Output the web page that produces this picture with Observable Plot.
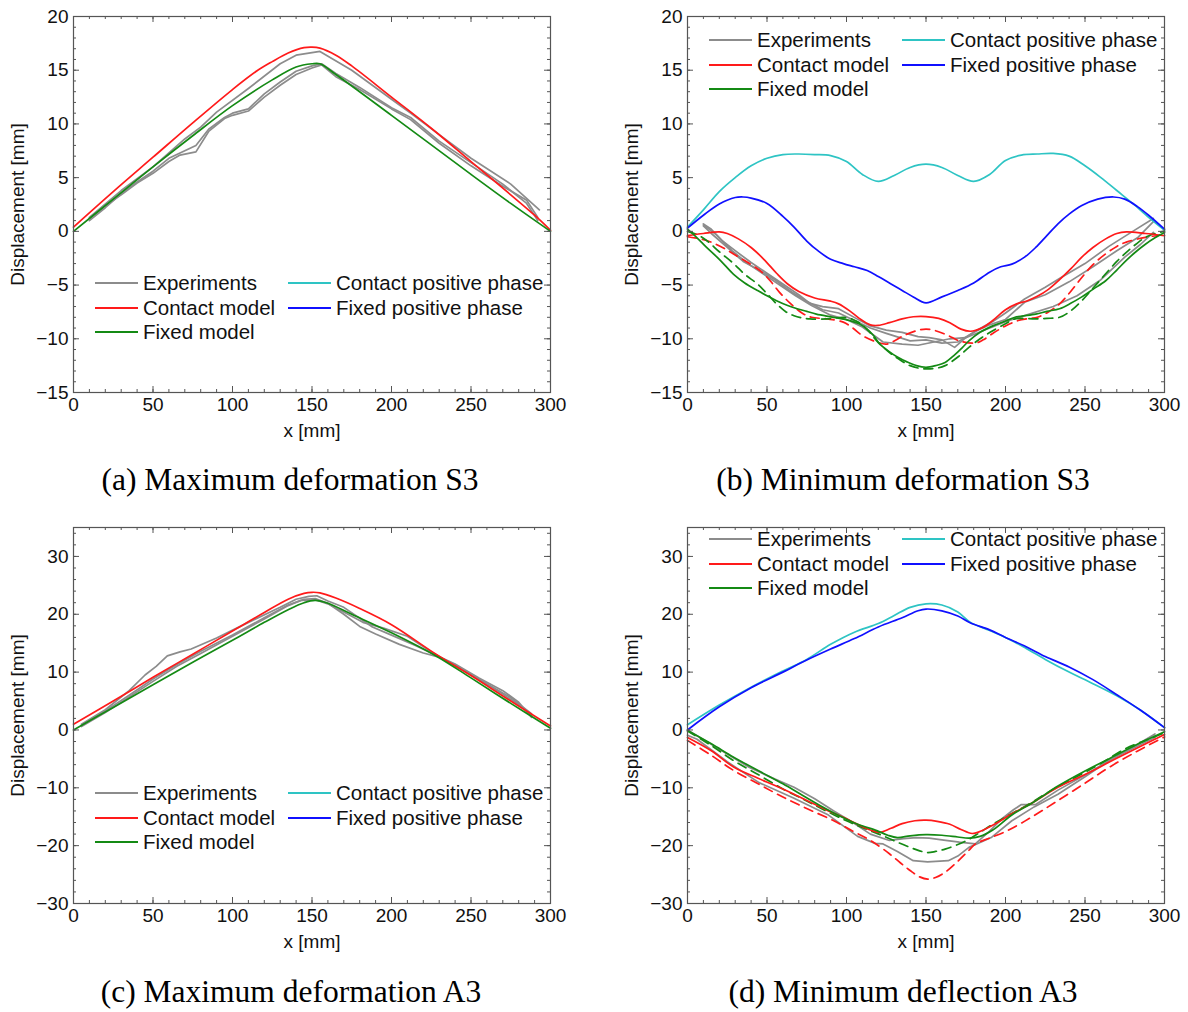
<!DOCTYPE html>
<html><head><meta charset="utf-8">
<script src="https://cdn.jsdelivr.net/npm/d3@7"></script>
<script src="https://cdn.jsdelivr.net/npm/@observablehq/plot@0.6"></script>
<style>
body{margin:0;background:#fff;}
#root{position:relative;width:1188px;height:1012px;overflow:hidden;background:#fff;font-family:"Liberation Sans",Arial,sans-serif;}
.panel{position:absolute;}
.leg{position:absolute;font-size:20.5px;color:#111;white-space:nowrap;line-height:20px;display:flex;align-items:center;}
.leg svg{margin-right:5px;}
.caption{position:absolute;font-family:"Liberation Serif","Times New Roman",serif;font-size:31.5px;line-height:32px;transform:translateX(-50%);white-space:nowrap;color:#000;}
</style>
</head><body><div id="root"></div>
<script>
// ---------------- data ----------------
const X_TICKS = [0, 50, 100, 150, 200, 250, 300];
const Y_TICKS_S3 = [-15, -10, -5, 0, 5, 10, 15, 20];
const Y_TICKS_A3 = [-30, -20, -10, 0, 10, 20, 30];
const LEGEND_NAMES = ["Experiments", "Contact model", "Fixed model", "Contact positive phase", "Fixed positive phase"];
const CAPTIONS = ["(a) Maximum deformation S3", "(b) Minimum deformation S3", "(c) Maximum deformation A3", "(d) Minimum deflection A3"];

// (a) Maximum deformation S3
const a_exp1 = [[10,1.3],[30,3.8],[50,6.0],[70,8.6],[80,9.7],[90,11.1],[110,13.3],[130,15.6],[140,16.4],[155,16.75],[175,15.0],[200,12.3],[212,11.0],[230,9.0],[250,6.8],[275,4.4],[293,2.0]];
const a_exp2 = [[10,1.2],[20,2.4],[30,3.4],[40,4.5],[50,5.4],[60,6.5],[67,7.1],[77,7.4],[85,9.3],[95,10.5],[100,10.8],[110,11.2],[120,12.5],[130,13.6],[140,14.6],[150,15.2],[156,15.5],[165,14.4],[180,13.2],[200,11.4],[212,10.4],[230,8.2],[250,6.1],[270,4.2],[285,2.9],[292,1.3]];
const a_exp3 = [[10,1.0],[20,2.2],[30,3.5],[40,4.6],[50,5.6],[60,6.8],[67,7.3],[77,8.0],[85,9.5],[95,10.6],[100,11.0],[110,11.4],[120,12.8],[130,13.9],[140,14.9],[150,15.4],[156,15.6],[165,14.7],[180,13.4],[200,11.5],[212,10.6],[230,8.4],[250,6.4],[270,4.4],[285,2.6],[292,1.0]];
const a_contact = [[0,0.4],[25,3.7],[50,6.9],[75,10.1],[100,13.2],[115,14.9],[125,15.8],[135,16.6],[145,17.1],[150,17.15],[155,17.05],[165,16.4],[175,15.4],[200,12.5],[225,9.6],[250,6.5],[275,3.4],[290,1.5],[300,0.1]];
const a_fixed = [[0,0],[25,3.0],[50,6.0],[75,8.9],[100,11.7],[125,14.1],[140,15.3],[150,15.6],[155,15.6],[165,14.6],[200,10.8],[250,5.3],[275,2.6],[300,0]];

// (b) Minimum deformation S3
const b_exp1 = [[10,0.7],[15,0.2],[22,-0.9],[30,-1.8],[40,-2.9],[50,-3.9],[60,-4.9],[70,-5.9],[77,-6.7],[85,-7.0],[95,-7.2],[106,-8.1],[115,-8.8],[125,-9.2],[135,-9.4],[145,-9.8],[152,-9.9],[160,-10.1],[168,-10.8],[175,-9.9],[182,-9.2],[192,-8.4],[200,-7.6],[212,-6.3],[225,-5.2],[235,-4.3],[250,-3.0],[265,-1.4],[280,0.0],[293,1.2]];
const b_exp2 = [[10,0.5],[15,-0.2],[25,-1.5],[35,-2.8],[45,-3.6],[55,-4.5],[65,-5.6],[75,-6.5],[85,-7.3],[95,-7.6],[105,-8.3],[115,-9.0],[125,-9.5],[140,-10.2],[150,-10.1],[160,-10.4],[170,-10.3],[180,-9.4],[190,-8.7],[200,-8.2],[212,-6.6],[225,-5.9],[240,-4.7],[255,-3.3],[270,-1.8],[283,-0.6],[293,0.9]];
const b_exp3 = [[10,0.6],[18,-0.3],[28,-1.8],[38,-3.0],[48,-4.0],[58,-5.0],[68,-6.0],[78,-6.9],[90,-7.8],[100,-8.2],[110,-8.9],[123,-10.3],[135,-10.5],[145,-10.6],[155,-10.3],[165,-10.0],[175,-9.9],[185,-9.3],[200,-8.4],[215,-7.7],[230,-7.0],[245,-6.0],[260,-4.5],[275,-2.4],[285,-1.2],[293,-0.1]];
const b_contact = [[0,-0.4],[10,-0.2],[20,-0.05],[25,-0.2],[32,-0.7],[40,-1.5],[48,-2.6],[56,-3.9],[63,-4.9],[70,-5.6],[80,-6.2],[90,-6.5],[95,-6.75],[102,-7.4],[108,-8.1],[115,-8.7],[120,-8.75],[127,-8.5],[135,-8.15],[142,-7.95],[150,-7.93],[158,-8.1],[165,-8.5],[172,-9.1],[178,-9.3],[185,-9.0],[192,-8.3],[200,-7.3],[207,-6.75],[213,-6.5],[220,-6.05],[227,-5.4],[234,-4.5],[241,-3.5],[248,-2.4],[255,-1.5],[263,-0.7],[270,-0.2],[276,-0.05],[288,-0.2],[300,-0.4]];
const b_contact_dash = [[0,-0.5],[12,-0.85],[22,-1.5],[30,-2.2],[39,-3.0],[46,-3.7],[52,-4.6],[58,-5.7],[65,-6.75],[72,-7.6],[78,-8.0],[88,-8.15],[98,-8.45],[104,-9.0],[110,-9.7],[119,-10.3],[125,-10.5],[130,-10.2],[136,-9.7],[144,-9.25],[150,-9.1],[156,-9.25],[164,-9.7],[171,-10.2],[181,-10.4],[186,-10.1],[192,-9.5],[200,-8.8],[208,-8.3],[215,-8.1],[220,-8.0],[227,-7.5],[234,-6.75],[241,-5.6],[248,-4.3],[255,-3.1],[263,-2.1],[270,-1.4],[276,-1.0],[288,-0.56],[300,-0.3]];
const b_fixed = [[0,0.2],[6,-0.6],[12,-1.5],[20,-2.6],[29,-4.0],[36,-4.8],[44,-5.5],[50,-6.0],[56,-6.45],[63,-6.9],[69,-7.2],[75,-7.45],[81,-7.7],[92,-8.0],[102,-8.3],[108,-8.6],[113,-9.1],[117,-9.7],[121,-10.5],[126,-11.1],[132,-11.7],[138,-12.15],[144,-12.5],[150,-12.65],[156,-12.5],[162,-12.2],[168,-11.5],[173,-10.8],[177,-10.2],[184,-9.4],[192,-8.8],[200,-8.35],[206,-8.0],[219,-7.7],[226,-7.45],[234,-7.2],[241,-6.7],[248,-6.1],[255,-5.4],[263,-4.6],[270,-3.6],[276,-2.7],[282,-1.9],[288,-1.2],[294,-0.6],[300,-0.1]];
const b_fixed_dash = [[0,0],[6,-0.3],[12,-0.85],[20,-1.9],[29,-3.0],[36,-4.0],[44,-4.9],[50,-5.8],[56,-6.75],[62,-7.5],[67,-7.85],[72,-8.05],[77,-8.15],[88,-8.15],[98,-8.0],[104,-8.2],[109,-8.6],[114,-9.3],[119,-10.2],[124,-10.9],[128,-11.4],[134,-12.0],[140,-12.5],[146,-12.75],[150,-12.8],[156,-12.75],[162,-12.5],[170,-11.7],[177,-10.8],[184,-10.0],[192,-9.25],[200,-8.6],[206,-8.15],[219,-8.15],[226,-8.1],[234,-8.0],[241,-7.4],[248,-6.45],[255,-5.3],[263,-3.95],[270,-2.8],[276,-1.95],[282,-1.2],[288,-0.56],[294,-0.2],[300,0]];
const b_contact_pos = [[0,0.4],[10,2.0],[20,3.7],[30,5.0],[40,6.1],[50,6.8],[60,7.15],[70,7.2],[80,7.15],[90,7.05],[100,6.5],[110,5.3],[120,4.65],[130,5.2],[140,5.95],[150,6.25],[160,5.95],[170,5.2],[180,4.65],[190,5.3],[200,6.6],[210,7.1],[220,7.2],[230,7.25],[240,7.0],[250,6.1],[260,5.0],[270,3.8],[280,2.6],[290,1.3],[300,0.1]];
const b_fixed_pos = [[0,0.3],[10,1.5],[20,2.55],[30,3.15],[35,3.2],[40,3.1],[50,2.6],[60,1.4],[67,0.4],[75,-0.9],[82,-1.8],[90,-2.6],[98,-3.0],[105,-3.3],[113,-3.65],[120,-4.2],[128,-4.9],[135,-5.5],[142,-6.1],[150,-6.65],[160,-6.1],[170,-5.5],[180,-4.8],[190,-3.8],[197,-3.3],[204,-3.05],[212,-2.4],[219,-1.5],[226,-0.4],[233,0.7],[240,1.6],[248,2.4],[258,3.0],[268,3.2],[275,3.0],[283,2.3],[290,1.5],[300,0.2]];

// (c) Maximum deformation A3
const c_exp1 = [[5,1.0],[20,3.5],[35,6.8],[45,9.5],[52,11.0],[59,12.8],[67,13.5],[74,14.0],[90,15.9],[110,18.6],[130,21.2],[140,22.6],[148,23.1],[153,23.2],[160,22.3],[170,21.2],[180,19.3],[188,17.8],[200,16.4],[215,14.6],[225,13.3],[240,11.4],[255,9.0],[270,6.8],[280,4.8],[288,2.2]];
const c_exp2 = [[5,0.8],[20,3.3],[35,6.0],[50,8.8],[65,11.3],[80,13.6],[100,16.4],[120,19.4],[135,21.6],[143,22.4],[152,22.5],[160,21.8],[170,20.4],[182,18.6],[195,17.6],[210,16.2],[225,13.5],[240,11.1],[255,8.7],[270,6.2],[282,4.0],[288,2.5]];
const c_exp3 = [[5,0.6],[20,3.0],[35,5.7],[50,8.4],[65,11.0],[80,13.2],[100,16.2],[120,19.2],[135,21.5],[145,22.6],[152,22.7],[160,21.9],[170,20.0],[180,17.9],[190,16.6],[205,14.8],[220,13.3],[230,12.6],[245,10.4],[260,8.0],[275,5.6],[288,2.8]];
const c_contact = [[0,1.0],[25,5.0],[50,9.1],[75,13.1],[100,17.1],[120,20.3],[135,22.6],[145,23.6],[150,23.8],[155,23.7],[165,22.8],[180,21.0],[200,18.2],[228,13.1],[250,9.4],[275,5.0],[300,0.7]];
const c_fixed = [[0,0],[25,3.9],[50,7.8],[75,11.7],[100,15.5],[120,18.6],[135,20.8],[145,22.0],[152,22.4],[160,21.9],[175,20.0],[200,16.8],[228,12.8],[250,9.0],[275,4.6],[300,0.3]];

// (d) Minimum deflection A3
const d_exp1 = [[0,-0.9],[6,-1.6],[25,-5.5],[45,-9.1],[67,-11.8],[88,-14.6],[107,-18.4],[118,-19.6],[123,-19.7],[132,-21.0],[142,-22.6],[151,-22.8],[164,-22.6],[170,-21.8],[177,-20.3],[191,-18.6],[204,-15.7],[218,-13.3],[233,-11.1],[250,-8.1],[265,-5.3],[280,-3.0],[294,-0.7]];
const d_exp2 = [[0,0],[18,-3.0],[39,-6.5],[55,-8.5],[67,-9.9],[80,-11.9],[92,-14.0],[104,-16.0],[115,-18.0],[127,-19.1],[136,-18.8],[144,-18.6],[152,-18.7],[160,-19.0],[171,-19.4],[181,-19.7],[190,-17.5],[198,-15.3],[205,-13.8],[210,-12.9],[219,-12.9],[233,-10.4],[250,-7.8],[265,-5.3],[280,-3.2],[294,-1.3]];
const d_contact = [[0,-1.3],[15,-3.6],[29,-6.4],[44,-8.3],[55,-9.6],[67,-11.1],[78,-12.6],[88,-13.9],[98,-15.1],[107,-16.3],[115,-17.3],[121,-17.7],[128,-17.0],[135,-16.2],[143,-15.7],[150,-15.6],[157,-15.8],[165,-16.3],[172,-17.2],[179,-17.9],[186,-17.3],[195,-16.0],[204,-14.5],[215,-12.9],[233,-9.9],[250,-7.7],[265,-5.6],[280,-3.5],[300,-0.8]];
const d_contact_dash = [[0,-1.8],[15,-4.4],[29,-7.0],[45,-9.4],[60,-11.6],[76,-13.7],[92,-15.7],[104,-17.5],[115,-19.1],[127,-21.4],[134,-23.0],[140,-24.3],[146,-25.4],[151,-25.8],[156,-25.5],[162,-24.6],[170,-22.7],[177,-20.8],[181,-19.7],[190,-18.7],[202,-17.3],[218,-14.8],[233,-12.2],[250,-9.2],[265,-6.5],[282,-3.8],[300,-1.2]];
const d_fixed = [[0,-0.1],[15,-2.4],[29,-4.7],[45,-7.1],[60,-9.3],[73,-11.4],[85,-13.3],[96,-14.9],[107,-16.3],[119,-17.4],[126,-18.2],[132,-18.6],[140,-18.3],[150,-18.1],[160,-18.2],[170,-18.5],[177,-18.7],[184,-18.4],[192,-17.3],[204,-14.7],[218,-12.4],[233,-9.7],[250,-7.1],[265,-5.0],[282,-2.6],[300,-0.3]];
const d_fixed_dash = [[0,-0.2],[15,-2.7],[29,-5.3],[45,-7.8],[60,-10.2],[73,-12.0],[85,-13.7],[100,-15.7],[112,-17.1],[123,-18.3],[132,-19.4],[140,-20.3],[146,-20.9],[151,-21.2],[156,-21.0],[162,-20.6],[170,-19.8],[177,-18.9],[184,-17.7],[192,-16.3],[203,-14.6],[213,-13.1],[228,-10.6],[244,-8.2],[260,-5.8],[275,-3.3],[288,-1.8],[300,-0.5]];
const d_contact_pos = [[0,0.9],[20,4.3],[40,7.4],[60,10.2],[75,12.2],[90,14.8],[105,16.9],[120,18.4],[130,19.8],[140,21.2],[150,21.8],[160,21.6],[170,20.4],[178,18.6],[190,17.2],[200,16.0],[213,14.1],[225,12.2],[240,10.0],[255,8.0],[270,5.9],[285,3.4],[300,0.4]];
const d_fixed_pos = [[0,0],[20,4.0],[40,7.3],[60,10.0],[75,12.1],[90,14.0],[105,15.8],[120,17.8],[135,19.4],[145,20.6],[150,20.9],[160,20.6],[170,19.7],[178,18.5],[190,17.3],[200,16.0],[213,14.4],[225,12.7],[240,10.9],[255,8.7],[270,6.1],[285,3.4],[300,0.4]];

// ---------------- styles ----------------
const COLORS = {exp: "#8c8c8c", contact: "#ff1a1a", fixed: "#148a14", cpos: "#2ec4c4", fpos: "#1010ff"};
const LEG_COLORS = [COLORS.exp, COLORS.contact, COLORS.fixed, COLORS.cpos, COLORS.fpos];
const TICK = "#555";
const W = 594, H = 445, MT = 16, MB = 53;

function makePanel({series, yDomain, yTicks, yMinorStep, ml, mr}) {
  const pw = W - ml - mr, ph = H - MT - MB;
  const xMinor = d3.range(0, 301, 10);
  const yMinor = d3.range(yDomain[0], yDomain[1] + 0.001, yMinorStep);
  const marks = [];
  for (const s of series) {
    marks.push(Plot.line(s.data, {
      x: d => d[0], y: d => d[1], stroke: s.color, strokeWidth: s.w || 1.7,
      strokeDasharray: s.dash ? "9,6" : null,
      curve: s.exp ? "linear" : "catmull-rom"
    }));
  }
  // inward ticks on all four sides
  marks.push(
    Plot.tickX(xMinor, {x: d => d, stroke: TICK, insetTop: ph - 3}),
    Plot.tickX(xMinor, {x: d => d, stroke: TICK, insetBottom: ph - 3}),
    Plot.tickX(X_TICKS, {x: d => d, stroke: TICK, insetTop: ph - 6}),
    Plot.tickX(X_TICKS, {x: d => d, stroke: TICK, insetBottom: ph - 6}),
    Plot.tickY(yMinor, {y: d => d, stroke: TICK, insetRight: pw - 3}),
    Plot.tickY(yMinor, {y: d => d, stroke: TICK, insetLeft: pw - 3}),
    Plot.tickY(yTicks, {y: d => d, stroke: TICK, insetRight: pw - 6}),
    Plot.tickY(yTicks, {y: d => d, stroke: TICK, insetLeft: pw - 6}),
    Plot.frame({stroke: "#555", strokeWidth: 1.2}),
    Plot.axisX(X_TICKS, {anchor: "bottom", tickSize: 0, tickPadding: 5, fontSize: 19, label: "x [mm]", labelAnchor: "center", labelArrow: "none", labelOffset: 44}),
    Plot.axisY(yTicks, {anchor: "left", tickSize: 0, tickPadding: 5, fontSize: 19, label: "Displacement [mm]", labelAnchor: "center", labelArrow: "none", labelOffset: 63})
  );
  return Plot.plot({
    width: W, height: H, marginLeft: ml, marginRight: mr, marginTop: MT, marginBottom: MB,
    x: {domain: [0, 300]}, y: {domain: yDomain},
    style: {fontFamily: '"Liberation Sans", Arial, sans-serif', fontSize: "20px", color: "#111", background: "white", overflow: "visible"},
    marks
  });
}

function exps(arr) { return arr.map(d => ({data: d, color: COLORS.exp, exp: true})); }

const panels = [
  {left: 0, top: 0, ml: 73, mr: 44, yDomain: [-15, 20], yTicks: Y_TICKS_S3, yMinorStep: 1,
   series: [...exps([a_exp1, a_exp2, a_exp3]), {data: a_contact, color: COLORS.contact}, {data: a_fixed, color: COLORS.fixed}],
   legTop: 273, capX: 290, capTop: 464},
  {left: 594, top: 0, ml: 93, mr: 24, yDomain: [-15, 20], yTicks: Y_TICKS_S3, yMinorStep: 1,
   series: [...exps([b_exp1, b_exp2, b_exp3]),
     {data: b_contact_pos, color: COLORS.cpos}, {data: b_fixed_pos, color: COLORS.fpos},
     {data: b_contact_dash, color: COLORS.contact, dash: true}, {data: b_fixed_dash, color: COLORS.fixed, dash: true},
     {data: b_contact, color: COLORS.contact}, {data: b_fixed, color: COLORS.fixed}],
   legTop: 30, capX: 903, capTop: 464},
  {left: 0, top: 511, ml: 73, mr: 44, yDomain: [-30, 35], yTicks: Y_TICKS_A3, yMinorStep: 2,
   series: [...exps([c_exp1, c_exp2, c_exp3]), {data: c_contact, color: COLORS.contact}, {data: c_fixed, color: COLORS.fixed}],
   legTop: 783, capX: 291, capTop: 976},
  {left: 594, top: 511, ml: 93, mr: 24, yDomain: [-30, 35], yTicks: Y_TICKS_A3, yMinorStep: 2,
   series: [...exps([d_exp1, d_exp2]),
     {data: d_contact_pos, color: COLORS.cpos}, {data: d_fixed_pos, color: COLORS.fpos},
     {data: d_contact_dash, color: COLORS.contact, dash: true}, {data: d_fixed_dash, color: COLORS.fixed, dash: true},
     {data: d_contact, color: COLORS.contact}, {data: d_fixed, color: COLORS.fixed}],
   legTop: 529, capX: 903, capTop: 976}
];

const root = document.getElementById("root");
panels.forEach((p, i) => {
  const div = document.createElement("div");
  div.className = "panel";
  div.style.left = p.left + "px"; div.style.top = p.top + "px";
  div.appendChild(makePanel(p));
  root.appendChild(div);
  // legend (HTML overlay)
  const plotLeft = p.left + p.ml;
  LEGEND_NAMES.forEach((name, k) => {
    const col = k < 3 ? 0 : 1, row = k < 3 ? k : k - 3;
    const e = document.createElement("div");
    e.className = "leg";
    e.style.left = (plotLeft + 22 + col * 193) + "px";
    e.style.top = (p.legTop + row * 24.5) + "px";
    e.innerHTML = `<svg width="43" height="20"><line x1="0" x2="43" y1="10" y2="10" stroke="${LEG_COLORS[k]}" stroke-width="2"/></svg><span>${name}</span>`;
    root.appendChild(e);
  });
  const cap = document.createElement("div");
  cap.className = "caption";
  cap.style.left = p.capX + "px"; cap.style.top = p.capTop + "px";
  cap.textContent = CAPTIONS[i];
  root.appendChild(cap);
});
</script>
</body></html>
